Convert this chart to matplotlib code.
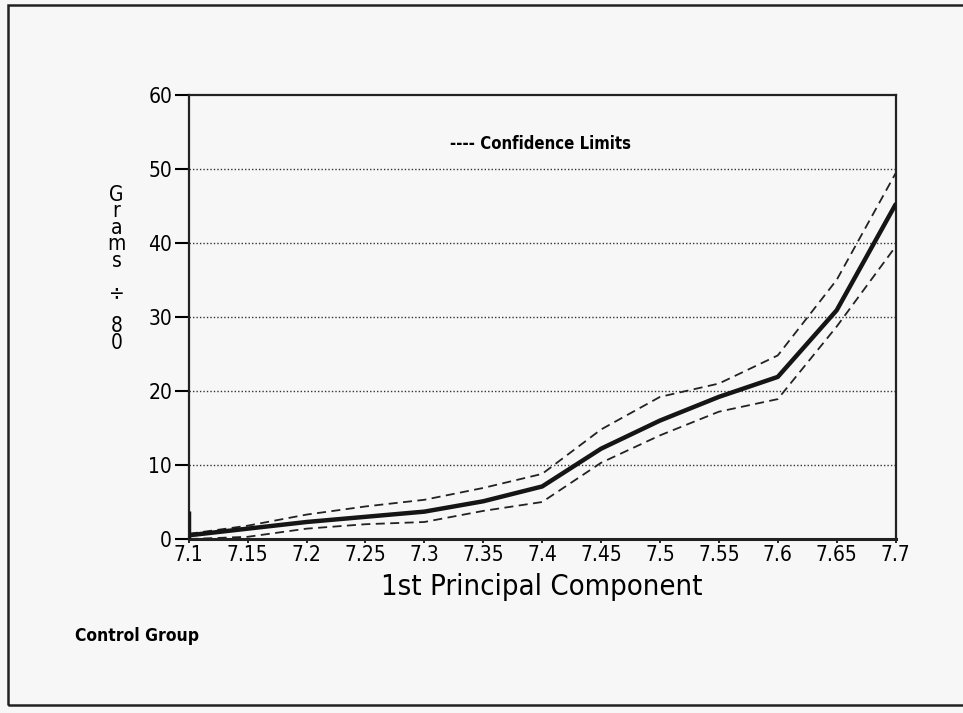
import matplotlib.pyplot as plt
import matplotlib.patches as patches

# Data
pc1 = [7.1, 7.15, 7.2, 7.25, 7.3, 7.35, 7.4, 7.45, 7.5, 7.55, 7.6, 7.65, 7.7]
grams = [0.5, 1.4, 2.3, 3.0, 3.7, 5.1, 7.1, 12.2, 16.0, 19.2, 21.9, 30.9, 45.2]
upper = [0.7, 1.8, 3.3, 4.4, 5.3, 6.9, 8.8, 14.8, 19.2, 21.0, 24.8, 35.0, 49.4]
lower = [0.0, 0.3, 1.4, 2.0, 2.3, 3.8, 5.0, 10.3, 14.0, 17.2, 18.9, 28.7, 39.5]
spike_top = 3.8

x_ticks = pc1
x_tick_labels = ["7.1", "7.15", "7.2", "7.25", "7.3", "7.35", "7.4", "7.45",
                 "7.5", "7.55", "7.6", "7.65", "7.7"]
y_ticks = [0, 10, 20, 30, 40, 50, 60]

plt.rcParams['font.family'] = ['DejaVu Sans']
plt.rcParams['font.stretch'] = 'condensed'

fig = plt.figure(figsize=(9.63, 7.13), dpi=100)
fig.patch.set_facecolor("#f7f7f7")

# outer frame
fig.add_artist(patches.Rectangle((0.008, 0.011), 1.2, 0.982, transform=fig.transFigure,
                                 fill=False, lw=1.8, ec="#222222"))

ax = fig.add_axes([0.196, 0.244, 0.734, 0.623])
ax.set_facecolor("#f7f7f7")

# grid lines
for yv in y_ticks[1:-1]:
    ax.axhline(yv, color="#333333", lw=1.0, ls=(0, (1, 1.5)), zorder=1)

ax.plot(pc1, upper, color="#222222", lw=1.3, ls=(0, (5, 3)), zorder=2)
ax.plot(pc1, lower, color="#222222", lw=1.3, ls=(0, (5, 3)), zorder=2)
ax.plot(pc1, grams, color="#151515", lw=3.2, solid_capstyle="round", zorder=3)
ax.vlines(pc1[0], 0, spike_top, color="#151515", lw=2.5, zorder=3)

ax.set_xlim(7.1, 7.7)
ax.set_ylim(0, 60)
ax.set_xticks(x_ticks)
ax.set_xticklabels(x_tick_labels, fontsize=15)
ax.set_yticks(y_ticks)
ax.set_yticklabels([str(v) for v in y_ticks], fontsize=15)
ax.tick_params(axis="y", length=10, width=1.5, pad=2, direction="out")
ax.tick_params(axis="x", length=3, width=1.2, pad=1, direction="out")

for side in ["left", "right", "top", "bottom"]:
    ax.spines[side].set_color("#222222")
    ax.spines[side].set_linewidth(1.6)
ax.spines["bottom"].set_linewidth(2.2)

ax.set_xlabel("1st Principal Component", fontsize=21, labelpad=6)

# stacked vertical y label
fig.text(0.121, 0.623, "G\nr\na\nm\ns\n\n÷\n\n8\n0", fontsize=15, ha="center", va="center",
         linespacing=0.78)

ax.text(0.37, 0.89, "---- Confidence Limits", transform=ax.transAxes, fontsize=12,
        fontweight="bold", ha="left", va="center")

fig.text(0.078, 0.108, "Control Group", fontsize=12.5, fontweight="bold", ha="left", va="center")

fig.savefig("out.png", dpi=100, facecolor=fig.get_facecolor())
